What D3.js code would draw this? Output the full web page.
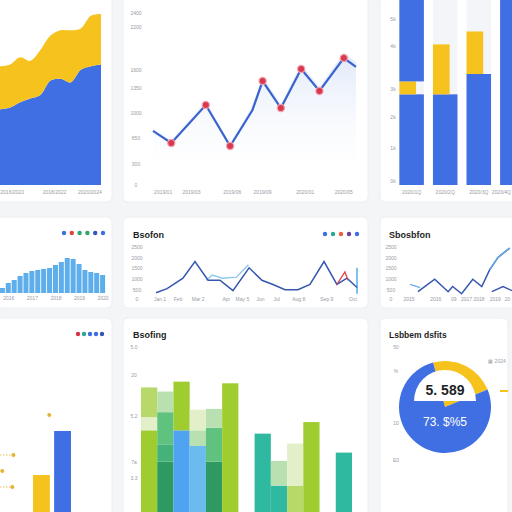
<!DOCTYPE html>
<html>
<head>
<meta charset="utf-8">
<script src="https://cdn.jsdelivr.net/npm/d3@7"></script>
<style>
body { margin: 0; background: #f4f5f7; }
svg { display: block; font-family: "Liberation Sans", Arial, sans-serif; }
</style>
</head>
<body>
<svg id="chart" width="512" height="512"></svg>
<script>
// ---- data ----
// panel 1: stacked area
var areaX = [0, 1, 2, 3, 4, 5, 6, 7, 8, 9, 10];
var areaBlue = [42, 43, 46, 48, 50, 58, 59, 57, 64, 66, 67];
var areaYellow = [24, 24, 25, 21, 25, 25, 27, 29, 23, 28, 28];
var areaTicks = [1.2, 5.4, 8.9];
var areaLabels = ["2016/2020", "2018/2022", "2020/2024"];

// panel 2: line with markers
var lineX = [0, 9, 26, 38, 49, 54, 63, 73, 82, 94, 100];
var lineY = [755, 586, 1116, 544, 1047, 1451, 1074, 1619, 1312, 1772, 1647];
var lineMarked = [0, 1, 1, 1, 0, 1, 1, 1, 1, 1, 0];
var lineYTicks = [0, 300, 650, 1000, 1350, 1600, 2200, 2400];
var lineXTicks = [5, 19, 39, 54, 75, 94];
var lineXLabels = ["2019/01", "2019/03", "2019/06", "2019/09", "2020/01", "2020/05"];

// panel 3: stacked bars
var barCats = ["2020/1Q", "2020/2Q", "2020/3Q", "2020/4Q"];
var barBlue = [49, 49, 60, 100];
var barYellow = [7, 27, 23, 0];
var barBlueTop = [44, 0, 0, 0];
var barYTicks = [2, 20, 37, 52, 75, 90];
var barYLabels = ["0k", "1k", "2k", "3k", "4k", "5k"];

// panel 4: histogram
var histValues = [5, 10, 13, 17, 20, 22, 23, 24, 25, 28, 31, 35, 34, 29, 23, 21, 20, 18];
var histXTicks = [1, 5, 9, 13, 17];
var histLabels = ["2016", "2017", "2018", "2019", "2020"];
var histLegend = ["#3d6ee0", "#e0453a", "#2aa86a", "#2aa86a", "#3357b5", "#3d6ee0"];

// panel 5: multi line
var multiX = [0, 5.5, 9.5, 13.4, 19.4, 25.9, 31.8, 38.3, 46.3, 52.7, 58.2, 64.2, 70.6, 76.6, 83.6, 90, 95, 100];
var multiMain = [6, 10, 15, 20, 36, 18, 18, 8, 30, 18, 14, 9, 9, 14, 36, 14, 20, 11];
var multiLightX = [25, 28, 33, 40, 46];
var multiLight = [18, 23, 20, 21, 33];
var multiRedX = [90, 94, 95.5];
var multiRed = [14, 26, 18];
var multiYTicks = [0, 9, 19, 30, 39, 50];
var multiYLabels = ["0", "500", "1000", "1500", "2000", "2500"];
var multiXTicks = [2, 11, 21, 35, 43, 52, 60, 71, 85, 98];
var multiXLabels = ["Jan 1", "Feb", "Mar 2", "Apr", "May 5", "Jun", "Jul", "Aug 8", "Sep 9", "Oct"];
var multiLegend = ["#3d6ee0", "#2aa890", "#e8603a", "#6a3fa0", "#3d6ee0"];
var multiHighlight = 30;

// panel 6: lines
var sideX = [16, 31, 43, 47, 55, 65, 73, 80, 87.5, 98];
var sideMain = [7, 19, 7, 12, 5, 19, 12, 28, 40, 49];
var sideLightX = [9, 18];
var sideLight = [14, 11];
var sideLowX = [82, 92, 100];
var sideLow = [7, 12, 8];
var sideXTicks = [8, 32, 48, 65, 85, 96];
var sideXLabels = ["2015", "2016", "09", "2017 2018", "2019", "20"];

// panel 7: small bars and dots
var smallCats = ["A", "B"];
var smallValues = [37, 81];
var dotX = [44, 12, 2, 11];
var dotY = [97, 57, 41, 25];
var dotLeader = [0, 1, 0, 1];
var smallLegend = ["#d9344a", "#2aa890", "#3d6ee0", "#3d6ee0", "#3357b5"];

// panel 8: segmented bars (bottom to top)
var segCats = ["a", "b", "c", "d", "e", "f", "", "g", "h", "i", "j", " ", "k"];
var segSeries = [
  [["lime", 99], ["pale", 16], ["lightlime", 36]],
  [["dark", 61], ["mid", 21], ["green", 39], ["palegreen", 25]],
  [["blue", 99], ["lime", 59]],
  [["lightblue", 80], ["palegreen", 19], ["pale", 25]],
  [["dark", 61], ["green", 41], ["palegreen", 23]],
  [["lime", 156]],
  [],
  [["teal", 95]],
  [["teal", 32], ["palegreen", 30]],
  [["lightlime", 32], ["pale", 51]],
  [["lime", 109]],
  [],
  [["teal", 72]]
];
var segYTicks = [41, 61, 116, 166, 200];
var segYLabels = ["3.3", "7a", "5.2", "20", "5.0"];

// panel 9: pie
var pieValues = [23, 77];
var pieYTicks = [0, 33, 79, 100];
var pieYLabels = ["E0", "10", "%", "50"];

// ---- colors ----
var blue = "#3f6fe2", yellow = "#f6c31e";
var segColor = {
  lime: "#9fcc2e", pale: "#e3efc8", lightlime: "#b6d96a", dark: "#2e9a62",
  mid: "#45b27a", green: "#5fc27e", palegreen: "#b9e0b0", blue: "#4fa3f0",
  lightblue: "#6cbbee", teal: "#2fb9a0"
};

var svg = d3.select("#chart");

// cards
var cards = [
  [-4, -4, 116, 206], [123, -4, 245, 206], [380, -4, 140, 206],
  [-4, 217, 116, 91], [123, 217, 245, 91], [380, 217, 140, 91],
  [-4, 318, 116, 200], [123, 318, 245, 200], [380, 318, 128, 200]
];
svg.selectAll(".card")
    .data(cards)
  .enter().append("rect")
    .attr("class", "card")
    .attr("x", function(d) { return d[0]; })
    .attr("y", function(d) { return d[1]; })
    .attr("width", function(d) { return d[2]; })
    .attr("height", function(d) { return d[3]; })
    .attr("rx", 5)
    .style("fill", "#ffffff")
    .style("stroke", "#eceef2");

function tickText(g, x, y, txt, anchor) {
  g.append("text")
      .attr("x", x)
      .attr("y", y)
      .attr("text-anchor", anchor || "middle")
      .style("font-size", "5px")
      .style("fill", "#979ca5")
      .text(txt);
}

function dots(g, colors, x0, y, step) {
  g.selectAll(null)
      .data(colors)
    .enter().append("circle")
      .attr("cx", function(d, i) { return x0 + i * step; })
      .attr("cy", y)
      .attr("r", 2.2)
      .style("fill", function(d) { return d; });
}

// ---- panel 1 ----
var p1 = svg.append("g");
var x1 = d3.scaleLinear().domain([0, 10]).range([0, 101]);
var y1 = d3.scaleLinear().domain([0, 100]).range([185, 5]);
var stack1 = d3.stack().keys(["blue", "yellow"])(areaX.map(function(d, i) {
  return {x: d, blue: areaBlue[i], yellow: areaYellow[i]};
}));
var area1 = d3.area()
    .curve(d3.curveCatmullRom)
    .x(function(d) { return x1(d.data.x); })
    .y0(function(d) { return y1(d[0]); })
    .y1(function(d) { return y1(d[1]); });
p1.selectAll("path")
    .data(stack1)
  .enter().append("path")
    .attr("d", area1)
    .style("fill", function(d) { return d.key == "blue" ? blue : yellow; });
areaTicks.forEach(function(t, i) { tickText(p1, x1(t), 194, areaLabels[i]); });

// ---- panel 2 ----
var p2 = svg.append("g");
var x2 = d3.scaleLinear().domain([0, 100]).range([153, 356]);
var y2 = d3.scaleLinear().domain([0, 2400]).range([185, 13]);
var defs = svg.append("defs");
var grad = defs.append("linearGradient").attr("id", "fade").attr("x1", 0).attr("y1", 0).attr("x2", 0).attr("y2", 1);
grad.append("stop").attr("offset", "0%").style("stop-color", "#d3e0f7").style("stop-opacity", 0.7);
grad.append("stop").attr("offset", "100%").style("stop-color", "#ffffff").style("stop-opacity", 0);
var pts2 = lineX.map(function(d, i) { return {x: d, y: lineY[i], m: lineMarked[i]}; });
p2.append("path")
    .datum(pts2)
    .attr("d", d3.area()
      .x(function(d) { return x2(d.x); })
      .y0(y2(0))
      .y1(function(d) { return y2(d.y) - 5; }))
    .style("fill", "url(#fade)");
p2.append("path")
    .datum(pts2)
    .attr("d", d3.line()
      .x(function(d) { return x2(d.x); })
      .y(function(d) { return y2(d.y); }))
    .style("fill", "none")
    .style("stroke", "#3a63cc")
    .style("stroke-width", 2.2);
p2.selectAll(".mk")
    .data(pts2.filter(function(d) { return d.m; }))
  .enter().append("circle")
    .attr("cx", function(d) { return x2(d.x); })
    .attr("cy", function(d) { return y2(d.y); })
    .attr("r", 3.6)
    .style("fill", "#d8394f")
    .style("stroke", "#f3a3b0")
    .style("stroke-width", 1.2);
lineYTicks.forEach(function(t) { tickText(p2, 136, y2(t) + 2, String(t)); });
lineXTicks.forEach(function(t, i) { tickText(p2, x2(t), 194, lineXLabels[i]); });

// ---- panel 3 ----
var p3 = svg.append("g");
var x3 = d3.scaleBand().domain(barCats).range([396, 528]).paddingInner(0.27).paddingOuter(0.1);
var y3 = d3.scaleLinear().domain([0, 100]).range([185, 0]);
p3.selectAll(".track")
    .data(barCats)
  .enter().append("rect")
    .attr("x", function(d) { return x3(d); })
    .attr("y", 0)
    .attr("width", x3.bandwidth())
    .attr("height", y3(0))
    .style("fill", "#f4f5f8");
p3.selectAll(".b")
    .data(barCats)
  .enter().append("rect")
    .attr("x", function(d) { return x3(d); })
    .attr("y", function(d, i) { return y3(barBlue[i]); })
    .attr("width", x3.bandwidth())
    .attr("height", function(d, i) { return y3(0) - y3(barBlue[i]); })
    .style("fill", blue);
p3.selectAll(".yb")
    .data(barCats)
  .enter().append("rect")
    .attr("x", function(d) { return x3(d); })
    .attr("y", function(d, i) { return y3(barBlue[i] + barYellow[i]); })
    .attr("width", x3.bandwidth() * 0.68)
    .attr("height", function(d, i) { return y3(0) - y3(barYellow[i]); })
    .style("fill", yellow);
p3.selectAll(".tb")
    .data(barCats)
  .enter().append("rect")
    .attr("x", function(d) { return x3(d); })
    .attr("y", function(d, i) { return y3(barBlue[i] + barYellow[i] + barBlueTop[i]); })
    .attr("width", x3.bandwidth())
    .attr("height", function(d, i) { return y3(0) - y3(barBlueTop[i]); })
    .style("fill", blue);
barYTicks.forEach(function(t, i) { tickText(p3, 393, y3(t) + 2, barYLabels[i]); });
barCats.forEach(function(c) {
  var cx = x3(c) + x3.bandwidth() / 2;
  if (cx > 500) tickText(p3, 511, 194, c, "end");
  else tickText(p3, cx, 194, c);
});

// ---- panel 4 ----
var p4 = svg.append("g");
var x4 = d3.scaleBand().domain(d3.range(histValues.length)).range([-1, 106]).padding(0.15);
var y4 = d3.scaleLinear().domain([0, 40]).range([293, 253]);
p4.selectAll("rect")
    .data(histValues)
  .enter().append("rect")
    .attr("x", function(d, i) { return x4(i); })
    .attr("y", function(d) { return y4(d); })
    .attr("width", x4.bandwidth())
    .attr("height", function(d) { return y4(0) - y4(d); })
    .style("fill", "#5daeea");
histXTicks.forEach(function(t, i) { tickText(p4, x4(t) + 3, 300, histLabels[i]); });
dots(p4, histLegend, 64, 233, 7.8);

// ---- panel 5 ----
var p5 = svg.append("g");
var x5 = d3.scaleLinear().domain([0, 100]).range([156, 357]);
var y5 = d3.scaleLinear().domain([0, 50]).range([299, 247]);
p5.append("text").attr("x", 133).attr("y", 238)
    .style("font-size", "9px").style("font-weight", "bold").style("fill", "#1d1f24").text("Bsofon");
dots(p5, multiLegend, 325, 234, 8);
p5.append("rect")
    .attr("x", x5(100) - 1)
    .attr("y", y5(multiHighlight))
    .attr("width", 2)
    .attr("height", y5(5) - y5(multiHighlight))
    .style("fill", "#7fc2ee");
var line5 = d3.line()
    .x(function(d) { return x5(d[0]); })
    .y(function(d) { return y5(d[1]); });
p5.append("path")
    .attr("d", line5(multiLightX.map(function(d, i) { return [d, multiLight[i]]; })))
    .style("fill", "none").style("stroke", "#8ec6ec").style("stroke-width", 1.4);
p5.append("path")
    .attr("d", line5(multiX.map(function(d, i) { return [d, multiMain[i]]; })))
    .style("fill", "none").style("stroke", "#3557b0").style("stroke-width", 1.5);
p5.append("path")
    .attr("d", line5(multiRedX.map(function(d, i) { return [d, multiRed[i]]; })))
    .style("fill", "none").style("stroke", "#d9444a").style("stroke-width", 1.3);
multiYTicks.forEach(function(t, i) { tickText(p5, 137, y5(t) + 2, multiYLabels[i]); });
multiXTicks.forEach(function(t, i) { tickText(p5, x5(t), 301, multiXLabels[i]); });

// ---- panel 6 ----
var p6 = svg.append("g");
var x6 = d3.scaleLinear().domain([0, 100]).range([400, 512]);
var y6 = d3.scaleLinear().domain([0, 50]).range([299, 247]);
p6.append("text").attr("x", 389).attr("y", 238)
    .style("font-size", "9px").style("font-weight", "bold").style("fill", "#1d1f24").text("Sbosbfon");
var line6 = d3.line()
    .x(function(d) { return x6(d[0]); })
    .y(function(d) { return y6(d[1]); });
p6.append("path")
    .attr("d", line6(sideLightX.map(function(d, i) { return [d, sideLight[i]]; })))
    .style("fill", "none").style("stroke", "#6aaee6").style("stroke-width", 1.4);
p6.append("path")
    .attr("d", line6(sideX.map(function(d, i) { return [d, sideMain[i]]; })))
    .style("fill", "none").style("stroke", "#3557b0").style("stroke-width", 1.5);
p6.append("path")
    .attr("d", line6(sideX.slice(7).map(function(d, i) { return [d, sideMain[i + 7]]; })))
    .style("fill", "none").style("stroke", "#62a8e8").style("stroke-width", 1.5);
p6.append("path")
    .attr("d", line6(sideLowX.map(function(d, i) { return [d, sideLow[i]]; })))
    .style("fill", "none").style("stroke", "#3557b0").style("stroke-width", 1.4);
multiYTicks.forEach(function(t, i) { tickText(p6, 391, y6(t) + 2, multiYLabels[i]); });
sideXTicks.forEach(function(t, i) { tickText(p6, x6(t), 301, sideXLabels[i]); });

// ---- panel 7 ----
var p7 = svg.append("g");
var x7 = d3.scaleBand().domain(smallCats).range([33, 71]).paddingInner(0.2);
var y7 = d3.scaleLinear().domain([0, 194]).range([512, 318]);
var dx7 = d3.scaleLinear().domain([0, 100]).range([0, 112]);
p7.selectAll("rect")
    .data(smallValues)
  .enter().append("rect")
    .attr("x", function(d, i) { return x7(smallCats[i]); })
    .attr("y", function(d) { return y7(d); })
    .attr("width", x7.bandwidth())
    .attr("height", function(d) { return y7(0) - y7(d); })
    .style("fill", function(d, i) { return i == 0 ? yellow : blue; });
dotX.forEach(function(d, i) {
  if (dotLeader[i]) {
    p7.append("line")
        .attr("x1", 0).attr("x2", dx7(d))
        .attr("y1", y7(dotY[i])).attr("y2", y7(dotY[i]))
        .style("stroke", "#e8c060").style("stroke-width", 1).style("stroke-dasharray", "1.5,1.5");
  }
  p7.append("circle")
      .attr("cx", dx7(d)).attr("cy", y7(dotY[i])).attr("r", 2)
      .style("fill", "#e2b534");
});
dots(p7, smallLegend, 78, 334, 6);

// ---- panel 8 ----
var p8 = svg.append("g");
var x8 = d3.scaleBand().domain(segCats).range([141, 352]).padding(0);
var y8 = d3.scaleLinear().domain([0, 200]).range([512, 347]);
p8.append("text").attr("x", 133).attr("y", 338)
    .style("font-size", "9px").style("font-weight", "bold").style("fill", "#1d1f24").text("Bsofing");
segSeries.forEach(function(segs, i) {
  var base = 0;
  segs.forEach(function(s) {
    p8.append("rect")
        .attr("x", x8(segCats[i]))
        .attr("y", y8(base + s[1]))
        .attr("width", x8.bandwidth())
        .attr("height", y8(base) - y8(base + s[1]))
        .style("fill", segColor[s[0]]);
    base += s[1];
  });
});
segYTicks.forEach(function(t, i) { tickText(p8, 134, y8(t) + 2, segYLabels[i]); });

// ---- panel 9 ----
var p9 = svg.append("g");
var y9 = d3.scaleLinear().domain([0, 100]).range([460, 347]);
p9.append("text").attr("x", 389).attr("y", 338)
    .style("font-size", "8.5px").style("font-weight", "bold").style("fill", "#1d1f24").text("Lsbbem dsfits");
var pie = d3.pie().sort(null).startAngle(-15 * Math.PI / 180).endAngle(345 * Math.PI / 180)(pieValues);
var arc9 = d3.arc().innerRadius(0).outerRadius(46);
var pg = p9.append("g").attr("transform", "translate(445,407)");
pg.selectAll("path")
    .data(pie)
  .enter().append("path")
    .attr("d", arc9)
    .style("fill", function(d, i) { return i == 0 ? yellow : blue; });
pg.append("path")
    .attr("transform", "translate(0,-6)")
    .attr("d", d3.arc().innerRadius(0).outerRadius(31).startAngle(-Math.PI / 2).endAngle(Math.PI / 2)())
    .style("fill", "#ffffff");
pg.append("text").attr("x", 0).attr("y", -12).attr("text-anchor", "middle")
    .style("font-size", "14px").style("font-weight", "bold").style("fill", "#1d1f24").text("5. 589");
pg.append("text").attr("x", 0).attr("y", 19).attr("text-anchor", "middle")
    .style("font-size", "12px").style("fill", "#ffffff").text("73. $%5");
pieYTicks.forEach(function(t, i) { tickText(p9, 396, y9(t) + 2, pieYLabels[i]); });
tickText(p9, 497, 363, "▦ 2024");
p9.append("rect").attr("x", 500).attr("y", 390).attr("width", 8).attr("height", 2).style("fill", yellow);
</script>
</body>
</html>
